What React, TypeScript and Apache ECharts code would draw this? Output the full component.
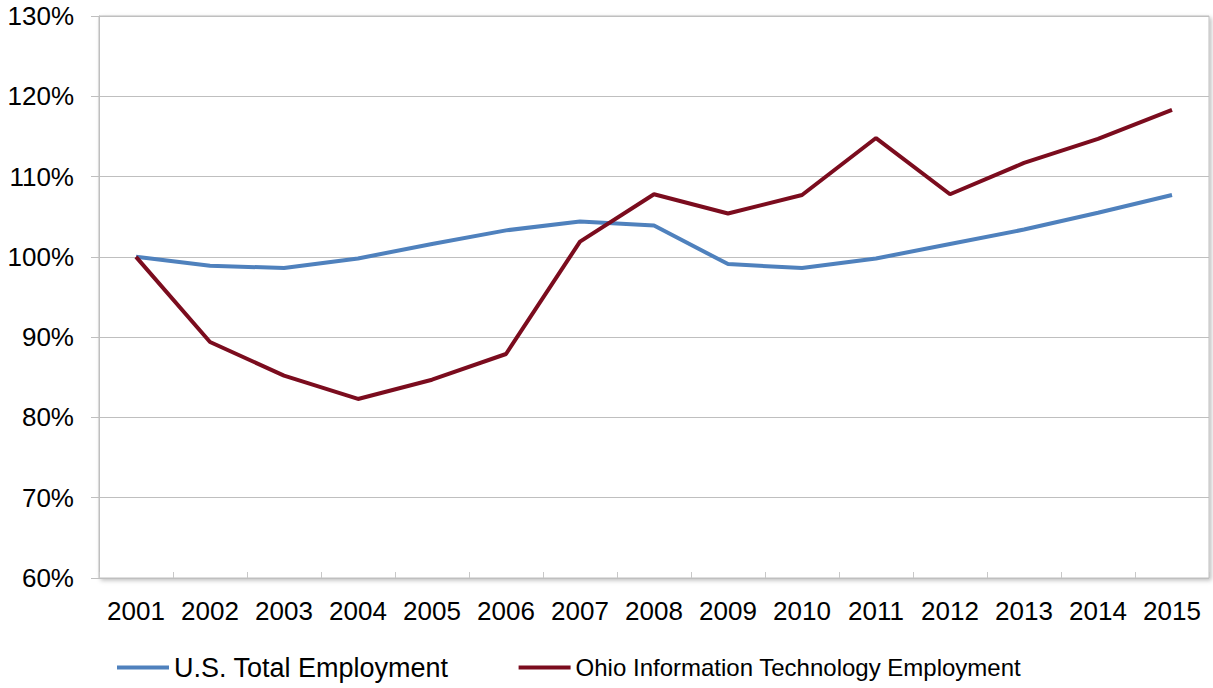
import React, { useEffect, useRef } from "react";
import * as echarts from "echarts";

const years = ["2001","2002","2003","2004","2005","2006","2007","2008","2009","2010","2011","2012","2013","2014","2015"];
const usTotal = [100, 98.9, 98.6, 99.8, 101.6, 103.3, 104.4, 103.9, 99.1, 98.6, 99.8, 101.6, 103.4, 105.5, 107.7];
const ohioIT = [100, 89.4, 85.2, 82.3, 84.7, 87.9, 101.9, 107.8, 105.4, 107.7, 114.8, 107.8, 111.7, 114.7, 118.3];
const seriesNames = ["U.S. Total Employment", "Ohio Information Technology Employment"];

export default function App() {
  const ref = useRef<HTMLDivElement>(null);
  useEffect(() => {
    if (!ref.current) return;
    const chart = echarts.init(ref.current, undefined, { renderer: "svg" });
    const font = "Arial, 'Liberation Sans', sans-serif";
    chart.setOption({
      animation: false,
      grid: {
        left: 99, right: 4, top: 16, bottom: 110,
        show: true, borderColor: "#BFBFBF", borderWidth: 1,
        shadowColor: "rgba(0,0,0,0.25)", shadowBlur: 4, shadowOffsetX: 2, shadowOffsetY: 2,
        backgroundColor: "#fff",
      },
      legend: {
        left: 112, top: 649, itemWidth: 52, itemHeight: 4, itemGap: 70,
        icon: "rect",
        textStyle: { fontSize: 26, color: "#000", fontFamily: font },
        data: [
          { name: seriesNames[0], textStyle: { fontSize: 27, fontFamily: font } },
          { name: seriesNames[1], textStyle: { fontSize: 24, fontFamily: font } },
        ],
      },
      xAxis: {
        type: "category", data: years, boundaryGap: true,
        axisLine: { lineStyle: { color: "#A6A6A6", width: 1, shadowColor: "rgba(0,0,0,0.45)", shadowBlur: 6, shadowOffsetY: 3 } },
        axisTick: { show: true, inside: true, length: 6, interval: 0, lineStyle: { color: "#C8C8C8" } },
        axisLabel: { fontSize: 26, color: "#000", fontFamily: font, margin: 20, interval: 0 },
      },
      yAxis: {
        type: "value", min: 60, max: 130, interval: 10,
        axisLine: { show: true, lineStyle: { color: "#BFBFBF" } },
        axisTick: { show: true, length: 8, lineStyle: { color: "#BFBFBF" } },
        axisLabel: { fontSize: 26, color: "#000", fontFamily: font, margin: 25, formatter: "{value}%" },
        splitLine: { lineStyle: { color: "#BFBFBF", width: 1 } },
      },
      series: [
        { name: seriesNames[0], type: "line", data: usTotal, showSymbol: false, symbol: "none",
          lineStyle: { color: "#4F81BD", width: 4 }, itemStyle: { color: "#4F81BD" } },
        { name: seriesNames[1], type: "line", data: ohioIT, showSymbol: false, symbol: "none",
          lineStyle: { color: "#7B0C1E", width: 4 }, itemStyle: { color: "#7B0C1E" } },
      ],
    });
    return () => chart.dispose();
  }, []);
  return <div ref={ref} style={{ position: "fixed", left: 0, top: 0, width: 1213, height: 688, background: "#fff" }} />;
}
